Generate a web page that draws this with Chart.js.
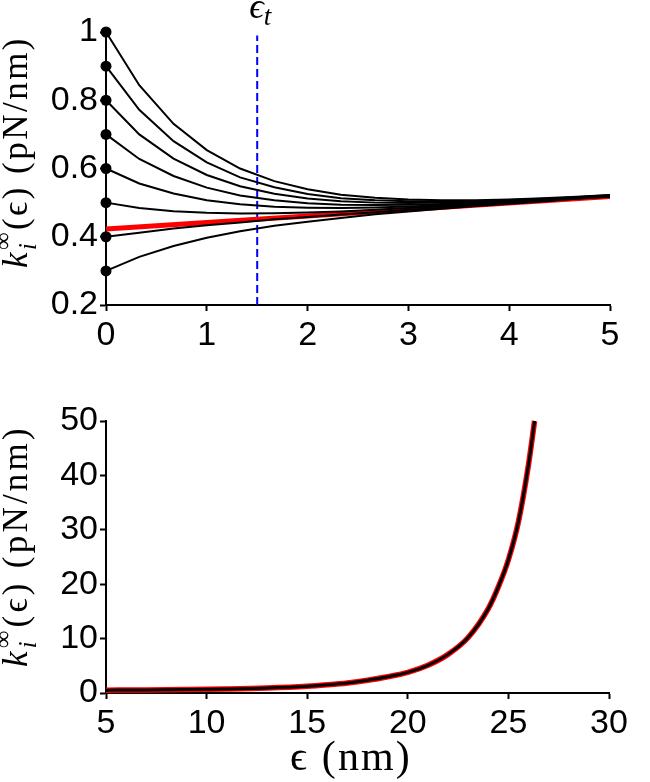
<!DOCTYPE html>
<html>
<head>
<meta charset="utf-8">
<script src="https://cdn.jsdelivr.net/npm/chart.js@4"></script>
<style>
html, body { margin: 0; padding: 0; background: #fff; }
#wrap { position: relative; width: 650px; height: 782px; }
canvas { position: absolute; left: 0; }
#topChart { top: 0; }
#bottomChart { top: 390px; }
</style>
</head>
<body>
<div id="wrap">
  <canvas id="topChart" width="650" height="370"></canvas>
  <canvas id="bottomChart" width="650" height="392"></canvas>
</div>
<script>
// top panel: k_i(eps) for different starting stiffness
const epsTop = [0, 0.33, 0.67, 1, 1.33, 1.67, 2, 2.33, 2.67, 3, 3.33, 3.67, 4, 4.33, 4.67, 5];
const k10 = [1.000, 0.844, 0.731, 0.654, 0.600, 0.563, 0.539, 0.523, 0.514, 0.509, 0.507, 0.507, 0.509, 0.513, 0.517, 0.522];
const k09 = [0.900, 0.772, 0.680, 0.618, 0.574, 0.545, 0.525, 0.513, 0.507, 0.504, 0.503, 0.505, 0.508, 0.511, 0.516, 0.521];
const k08 = [0.800, 0.700, 0.629, 0.581, 0.548, 0.526, 0.512, 0.504, 0.500, 0.499, 0.500, 0.502, 0.506, 0.510, 0.515, 0.521];
const k07 = [0.700, 0.628, 0.578, 0.544, 0.521, 0.507, 0.498, 0.494, 0.493, 0.494, 0.496, 0.500, 0.504, 0.509, 0.514, 0.520];
const k06 = [0.600, 0.556, 0.527, 0.507, 0.495, 0.488, 0.485, 0.484, 0.486, 0.489, 0.492, 0.497, 0.502, 0.507, 0.514, 0.519];
const k05 = [0.500, 0.484, 0.475, 0.470, 0.468, 0.469, 0.471, 0.474, 0.479, 0.484, 0.489, 0.495, 0.500, 0.506, 0.513, 0.519];
const k04 = [0.400, 0.412, 0.424, 0.434, 0.442, 0.451, 0.458, 0.465, 0.472, 0.479, 0.485, 0.492, 0.499, 0.505, 0.512, 0.518];
const k03 = [0.300, 0.341, 0.373, 0.397, 0.416, 0.432, 0.444, 0.455, 0.466, 0.474, 0.482, 0.490, 0.497, 0.503, 0.511, 0.517];
const epsRed = [0, 1, 2, 3, 4, 5];
const kRed = [0.423, 0.442, 0.461, 0.480, 0.499, 0.518];
const epsT = [1.5, 1.5];
const epsTLine = [0.2, 0.99];

// bottom panel
const epsBottom = [5, 7, 9, 11, 13, 15, 16, 17, 18, 19, 20, 21, 22, 23, 24, 24.5, 25, 25.5, 26, 26.3];
const kBottom = [0.52, 0.56, 0.63, 0.73, 0.9, 1.22, 1.5, 1.85, 2.35, 3.0, 3.8, 5.1, 7.1, 10.2, 15.5, 19.5, 24.5, 31.5, 42, 50];

const SANS = '"Liberation Sans", Arial, sans-serif';
const SERIF = '"Liberation Serif", "DejaVu Serif", serif';

function pts(xs, ys) {
  return xs.map((x, i) => ({ x: x, y: ys[i] }));
}

// text made of pieces (sub/superscripts), spaced out to a given width
function runPieces(ctx, pieces, size, extra, draw) {
  let x = 0, held = 0;
  pieces.forEach(p => {
    ctx.font = (p.italic ? 'italic ' : '') + (size * (p.scale || 1)).toFixed(2) + 'px ' + SERIF;
    let px = x;
    for (const ch of p.text) {
      if (draw) ctx.fillText(ch, px, (p.dy || 0) * size);
      px += ctx.measureText(ch).width + extra;
    }
    const w = px - x;
    if (p.keep) held = w; else { x += Math.max(w, held); held = 0; }
  });
  return x;
}
function drawRich(ctx, pieces, size, cx, cy, width, rotate) {
  ctx.save();
  const natural = runPieces(ctx, pieces, size, 0, false);
  const per = runPieces(ctx, pieces, size, 1, false) - natural;
  const extra = (width && per > 0) ? (width - natural) / per : 0;
  const total = runPieces(ctx, pieces, size, extra, false);
  ctx.translate(cx, cy);
  if (rotate) ctx.rotate(-Math.PI / 2);
  ctx.translate(-total / 2, 0);
  ctx.fillStyle = '#000';
  ctx.textBaseline = 'alphabetic';
  ctx.textAlign = 'left';
  runPieces(ctx, pieces, size, extra, true);
  ctx.restore();
}

const yTitle = [
  { text: 'k', italic: true },
  { text: 'i', italic: true, scale: 0.7, dy: 0.25, keep: true },
  { text: '\u221e', scale: 0.7, dy: -0.45 },
  { text: '(\u03f5) (pN/nm)' }
];

function axisOpts(min, max, step, w, h) {
  return {
    type: 'linear',
    min: min,
    max: max,
    border: { display: true, color: '#000', width: 2 },
    grid: { drawOnChartArea: false, drawTicks: true, tickLength: 6, tickWidth: 2, color: '#000' },
    ticks: {
      stepSize: step,
      color: '#000',
      padding: w ? 2 : 4,
      font: { family: SANS, size: 34 },
      callback: v => String(Number(v.toFixed(2)))
    },
    afterFit: s => { if (w) s.width = w; if (h) s.height = h; }
  };
}

function blackLine(data) {
  return {
    data: pts(epsTop, data),
    borderColor: '#000',
    borderWidth: 2,
    pointRadius: c => c.dataIndex === 0 ? 5.5 : 0,
    pointBackgroundColor: '#000',
    pointBorderWidth: 0,
    tension: 0,
    clip: false,
    order: 1
  };
}

new Chart(document.getElementById('topChart'), {
  type: 'line',
  data: {
    datasets: [
      blackLine(k10), blackLine(k09), blackLine(k08), blackLine(k07),
      blackLine(k06), blackLine(k05), blackLine(k04), blackLine(k03),
      { data: pts(epsRed, kRed), borderColor: '#ff0000', borderWidth: 5, pointRadius: 0, order: 2 },
      { data: pts(epsT, epsTLine), borderColor: '#0000ff', borderWidth: 2, borderDash: [8, 4], pointRadius: 0, clip: false, order: 3 }
    ]
  },
  options: {
    responsive: false,
    animation: false,
    layout: { padding: { top: 32, right: 40, left: 0, bottom: 0 } },
    plugins: { legend: { display: false }, tooltip: { enabled: false } },
    scales: {
      x: axisOpts(0, 5, 1, 0, 65),
      y: axisOpts(0.2, 1, 0.2, 106, 0)
    }
  },
  plugins: [{
    id: 'labelsTop',
    afterDraw(chart) {
      const ctx = chart.ctx;
      drawRich(ctx, yTitle, 35, 27, 152, 232, true);
      const xs = chart.scales.x.getPixelForValue(1.5);
      drawRich(ctx, [
        { text: '\u03f5', italic: true },
        { text: 't', italic: true, scale: 0.75, dy: 0.2 }
      ], 36, xs + 3, 18, 0, false);
    }
  }]
});

new Chart(document.getElementById('bottomChart'), {
  type: 'line',
  data: {
    datasets: [
      { data: pts(epsBottom, kBottom), borderColor: '#000', borderWidth: 3, pointRadius: 0, cubicInterpolationMode: 'monotone', clip: false, order: 1 },
      { data: pts(epsBottom, kBottom), borderColor: '#ff0000', borderWidth: 5.5, pointRadius: 0, cubicInterpolationMode: 'monotone', clip: false, order: 2 }
    ]
  },
  options: {
    responsive: false,
    animation: false,
    layout: { padding: { top: 31, right: 41, left: 0, bottom: 0 } },
    plugins: { legend: { display: false }, tooltip: { enabled: false } },
    scales: {
      x: axisOpts(5, 30, 5, 0, 89),
      y: axisOpts(0, 50, 10, 106, 0)
    }
  },
  plugins: [{
    id: 'labelsBottom',
    afterDraw(chart) {
      const ctx = chart.ctx;
      drawRich(ctx, yTitle, 35, 27, 156, 242, true);
      drawRich(ctx, [{ text: '\u03f5 (nm)' }], 42, 351, 380, 122, false);
    }
  }]
});
</script>
</body>
</html>
